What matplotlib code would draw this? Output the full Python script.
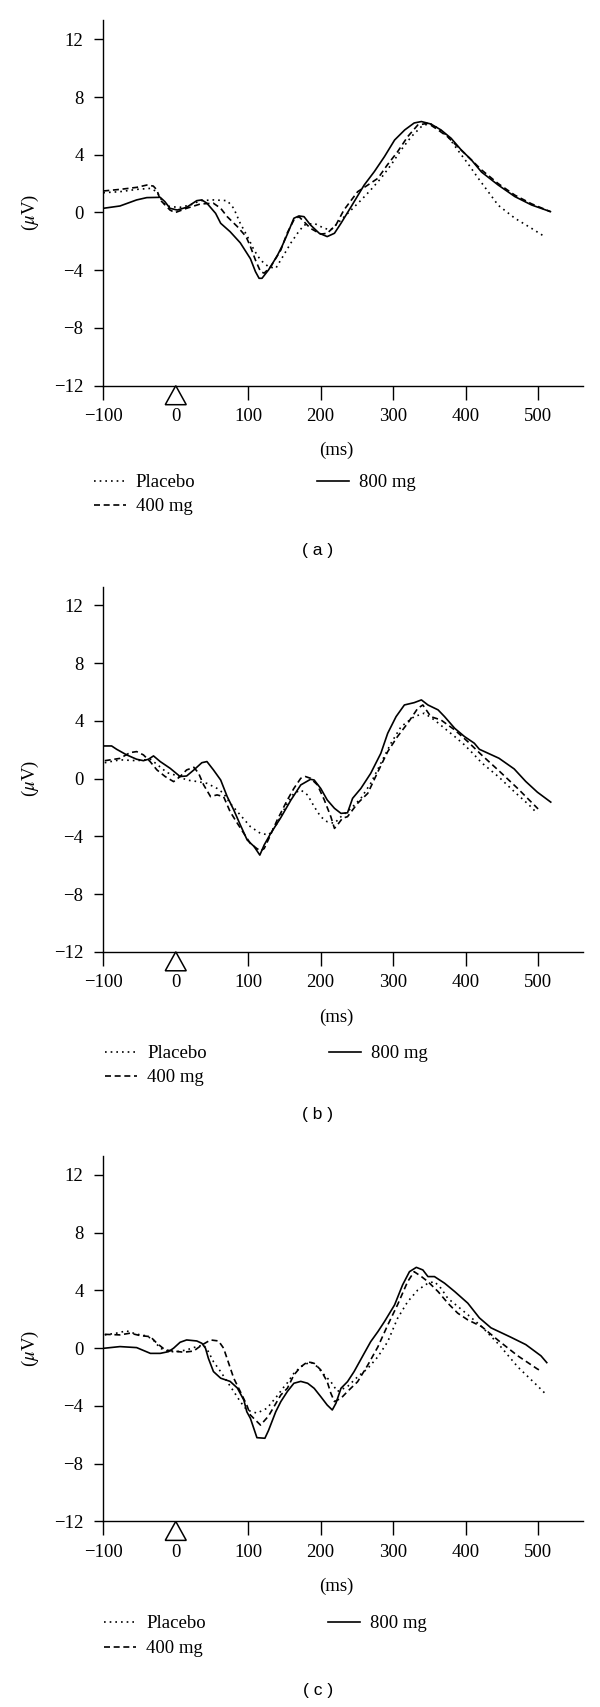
import matplotlib
matplotlib.use("Agg")
import matplotlib.pyplot as plt
from matplotlib.lines import Line2D
from matplotlib.patches import Polygon

plt.rcParams['font.family'] = ['Liberation Serif', 'DejaVu Serif']
plt.rcParams['mathtext.fontset'] = 'stix'

W, H = 600, 1707

# --- panel (a) ---
a_placebo_ms = [-100, -77, -54, -35, -26, -17, -8, 6, 20, 34, 52, 71, 80, 89, 99, 108, 117, 128, 138, 149,
                159, 168, 177, 191, 205, 214, 228, 242, 256, 269, 283, 297, 311, 325, 339, 350, 362, 376,
                389, 403, 417, 445, 468, 491, 509]
a_placebo_uv = [1.37, 1.44, 1.6, 1.67, 1.44, 0.64, 0.4, 0.36, 0.52, 0.82, 0.87, 0.82, 0.29, -0.75, -1.67,
                -2.6, -3.3, -3.76, -3.87, -2.95, -2.1, -1.44, -0.87, -0.75, -1.1, -1.2, -0.52, 0.17, 0.87,
                1.56, 2.36, 3.29, 4.33, 5.25, 5.95, 6.18, 5.84, 5.25, 4.33, 3.4, 2.4, 0.5, -0.4, -1.1, -1.67]
a_400_ms = [-100, -77, -54, -40, -31, -26, -21.5, -8, -1, 15, 34, 52, 62, 71, 85, 97, 103, 110, 117, 122,
            131, 145, 154, 163, 170, 177, 186, 200, 209, 221, 232, 251, 265, 279, 292, 306, 320, 334, 348,
            362, 375, 389, 408, 422, 445, 468, 491, 517]
a_400_uv = [1.49, 1.6, 1.74, 1.9, 1.83, 1.56, 0.87, 0.17, -0.01, 0.29, 0.59, 0.64, 0.29, -0.29, -0.98,
            -1.67, -2.36, -3.3, -4.1, -4.2, -3.76, -2.6, -1.4, -0.52, -0.29, -0.64, -1.1, -1.5, -1.44,
            -0.87, 0.17, 1.44, 1.9, 2.37, 3.3, 4.2, 5.25, 6.06, 6.18, 5.72, 5.25, 4.56, 3.64, 2.95, 2.0,
            1.2, 0.6, 0.06]
a_800_ms = [-100, -77, -54, -40, -21.5, -15, -8, 2, 15, 29, 36, 43, 55, 62, 75, 89, 103, 110, 115, 119,
            128, 140, 147, 154, 163, 170, 177, 186, 198, 209, 219, 228, 242, 260, 274, 288, 302, 316, 329,
            339, 352, 366, 380, 394, 408, 422, 445, 468, 491, 517]
a_800_uv = [0.29, 0.45, 0.87, 1.03, 1.05, 0.75, 0.29, 0.17, 0.36, 0.82, 0.87, 0.64, -0.06, -0.75, -1.33,
            -2.1, -3.2, -4.1, -4.56, -4.56, -3.98, -3.0, -2.3, -1.5, -0.4, -0.24, -0.29, -0.87, -1.44,
            -1.67, -1.44, -0.75, 0.4, 1.9, 2.83, 3.87, 5.02, 5.72, 6.2, 6.3, 6.13, 5.72, 5.14, 4.33, 3.64,
            2.8, 1.9, 1.1, 0.52, 0.06]

# --- panel (b) ---
b_placebo_ms = [-98, -77, -54, -35, -26, -12, 2, 15, 29, 43, 57, 66, 75, 89, 103, 117, 128.5, 140, 154,
                163, 172.5, 182, 191, 200, 209, 219, 228, 242, 255.5, 269, 283, 297, 311, 329, 343, 357,
                371, 385, 398.5, 412, 422, 446, 467, 488, 499]
b_placebo_uv = [1.1, 1.3, 1.24, 1.34, 0.99, 0.41, 0.2, -0.1, -0.2, -0.33, -0.68, -1.02, -1.71, -2.52,
                -3.33, -3.8, -3.9, -3.1, -1.71, -1.02, -0.79, -1.14, -1.94, -2.64, -2.99, -3.1, -2.64,
                -2.06, -1.37, -0.33, 1.06, 2.45, 3.6, 4.29, 4.53, 4.06, 3.48, 2.91, 2.33, 1.64, 1.1, 0.1,
                -0.9, -1.85, -2.42]
b_400_ms = [-98, -77, -63, -54, -44.6, -35.4, -26, -14.6, -3, 6, 15, 25, 31.5, 38.5, 48, 57, 66, 75, 85,
            94, 103, 112, 117, 122, 128.5, 140, 154, 163, 172.5, 179, 186, 195.5, 205, 214, 219, 223, 230,
            237, 251, 265, 279, 292.5, 306, 320, 334, 341, 352, 366, 385, 403, 422, 446, 472, 500]
b_400_uv = [1.24, 1.4, 1.8, 1.87, 1.64, 1.18, 0.6, 0.14, -0.21, 0.14, 0.6, 0.78, 0.37, -0.44, -1.25,
            -1.13, -1.25, -2.29, -3.1, -3.8, -4.5, -4.85, -5.0, -4.85, -4.15, -2.87, -1.48, -0.68, 0.02,
            0.14, 0.02, -0.44, -1.48, -2.64, -3.45, -3.22, -2.75, -2.64, -1.71, -1.02, 0.48, 1.87, 2.91,
            3.83, 4.87, 5.1, 4.29, 4.06, 3.37, 2.56, 1.64, 0.54, -0.69, -2.1]
b_800_ms = [-98, -88.5, -81.6, -67.7, -54, -44.6, -37.7, -30.7, -21.5, -7.7, 6, 15, 25, 36, 43, 52, 62,
            71, 80, 89, 98.5, 108, 116, 122, 131, 145, 159, 172.5, 186, 191, 200, 209, 219, 228, 237, 244,
            255.5, 269, 283, 292.5, 304, 315.5, 329, 339, 348, 362, 371, 385, 398.5, 412, 419, 446, 467,
            483, 499, 517.5]
b_800_uv = [2.26, 2.26, 2.03, 1.64, 1.34, 1.24, 1.34, 1.57, 1.18, 0.71, 0.14, 0.18, 0.6, 1.1, 1.18, 0.6,
            -0.1, -1.25, -2.17, -3.2, -4.25, -4.7, -5.3, -4.6, -3.8, -2.7, -1.48, -0.44, -0.05, -0.1,
            -0.68, -1.48, -2.06, -2.41, -2.37, -1.37, -0.68, 0.36, 1.75, 3.14, 4.29, 5.1, 5.26, 5.45, 5.1,
            4.76, 4.29, 3.48, 2.91, 2.45, 2.03, 1.41, 0.67, -0.2, -0.94, -1.63]

# --- panel (c) ---
c_placebo_ms = [-98, -82, -68, -54, -40, -31, -21.5, -10, 2, 15, 29, 38.5, 45, 52, 62, 71, 80, 89, 98,
                112, 126, 140, 149, 154, 163, 172.5, 186, 195.5, 205, 214, 223, 237, 251, 265, 279, 292.5,
                306, 320, 334, 348, 357, 366, 375.5, 389, 403, 422, 446, 472, 499, 509]
c_placebo_uv = [0.92, 1.04, 1.2, 0.97, 0.85, 0.57, 0.0, -0.24, -0.24, -0.12, 0.11, 0.22, -0.24, -0.93,
                -1.63, -2.32, -3.0, -3.7, -4.28, -4.5, -4.16, -3.3, -2.7, -2.4, -1.74, -1.29, -0.94, -1.29,
                -1.86, -2.32, -3.0, -2.66, -1.98, -1.4, -0.59, 0.45, 2.06, 3.22, 4.03, 4.5, 4.61, 4.15,
                3.45, 2.9, 2.32, 1.5, 0.25, -1.3, -2.6, -3.1]
c_400_ms = [-98, -77, -63, -49, -35, -26, -14.6, -3, 11, 24.6, 36, 48, 59, 66, 73, 80, 89, 98, 103, 117,
            128, 145, 154, 163, 172.5, 182, 191, 200, 209, 214, 219, 228, 237, 251, 265, 279, 292.5, 306,
            320, 329, 339, 348, 362, 375.5, 389, 403, 422, 446, 472, 499, 504]
c_400_uv = [0.96, 0.92, 1.04, 0.87, 0.8, 0.34, -0.12, -0.2, -0.28, -0.2, 0.22, 0.57, 0.5, 0.0, -1.04,
            -2.08, -3.0, -3.94, -4.63, -5.33, -4.7, -3.24, -2.78, -1.86, -1.29, -0.94, -1.05, -1.5, -2.32,
            -3.12, -3.7, -3.47, -3.0, -2.32, -1.17, 0.1, 1.6, 3.0, 4.61, 5.3, 4.96, 4.61, 3.92, 3.12, 2.43,
            1.96, 1.5, 0.5, -0.53, -1.44, -1.57]
c_800_ms = [-98, -77, -54, -35, -21.5, -10, -3, 6, 15, 29, 36, 41, 45, 52, 62, 75, 85, 94, 98, 103, 112,
            123, 128, 138, 145, 154, 163, 172.5, 182, 191, 200, 209, 216, 221, 228, 237, 246, 260, 269,
            279, 288, 302, 313, 322.5, 332, 341, 348, 357, 371, 385, 403, 419, 435, 462, 483, 504, 512]
c_800_uv = [0.0, 0.11, 0.04, -0.36, -0.36, -0.24, 0.0, 0.41, 0.57, 0.5, 0.34, 0.0, -0.7, -1.62, -2.08,
            -2.3, -2.76, -3.6, -4.4, -4.86, -6.2, -6.24, -5.7, -4.4, -3.7, -3.0, -2.43, -2.3, -2.43, -2.78,
            -3.35, -3.94, -4.28, -3.82, -2.78, -2.32, -1.63, -0.36, 0.45, 1.15, 1.84, 3.0, 4.38, 5.3, 5.6,
            5.42, 4.96, 4.96, 4.5, 3.92, 3.12, 2.1, 1.41, 0.77, 0.25, -0.53, -1.0]

x_ticks = [-100, 0, 100, 200, 300, 400, 500]
y_ticks = [-12, -8, -4, 0, 4, 8, 12]
labels = ["Placebo", "400 mg", "800 mg"]
styles = [(0, (1, 2.4)), (0, (3.6, 2.2)), "-"]
LW = 1.2

panels = [
    ("( a )", 385.7, [(a_placebo_ms, a_placebo_uv), (a_400_ms, a_400_uv), (a_800_ms, a_800_uv)],
     {"rows": (481.4, 505.4), "x1": 93.7, "x2": 317.0, "ms": 450.7, "cap": 550.0}),
    ("( b )", 951.8, [(b_placebo_ms, b_placebo_uv), (b_400_ms, b_400_uv), (b_800_ms, b_800_uv)],
     {"rows": (1052.0, 1076.0), "x1": 105.0, "x2": 328.7, "ms": 1017.0, "cap": 1115.0}),
    ("( c )", 1521.4, [(c_placebo_ms, c_placebo_uv), (c_400_ms, c_400_uv), (c_800_ms, c_800_uv)],
     {"rows": (1622.4, 1647.0), "x1": 104.0, "x2": 328.0, "ms": 1586.0, "cap": 1691.0}),
]

AX_LEFT, AX_RIGHT, AX_H = 103.3, 583.0, 365.2


def fx(px):
    return px / W


def fy(py):
    return 1 - py / H


def legend_entry(fig, x0, y, style, text):
    fig.add_artist(Line2D([fx(x0), fx(x0 + 32)], [fy(y), fy(y)], transform=fig.transFigure,
                          color="black", lw=LW, linestyle=style))
    fig.text(fx(x0 + 42), fy(y + 6), text, fontsize=13.5, va="baseline", ha="left")


def draw_panel(fig, cap, bottom, series, pos):
    ax = fig.add_axes([fx(AX_LEFT), fy(bottom), (AX_RIGHT - AX_LEFT) / W, AX_H / H])
    for (ms, uv), style, lab in zip(series, styles, labels):
        ax.plot(ms, uv, color="black", lw=LW, linestyle=style, label=lab)

    ax.set_xlim(-100, 562)
    ax.set_ylim(-12, 13.3)
    for s in ["top", "right"]:
        ax.spines[s].set_visible(False)
    for s in ["left", "bottom"]:
        ax.spines[s].set_linewidth(1.0)

    ax.set_xticks(x_ticks)
    ax.set_yticks(y_ticks)
    ax.tick_params(axis="x", direction="out", length=10, width=1.0, pad=6, labelsize=13.5)
    ax.tick_params(axis="y", direction="out", length=6.7, width=1.0, pad=7.5, labelsize=13.5)
    ax.xaxis.get_major_ticks()[1].tick1line.set_visible(False)

    # stimulus onset marker
    tri = Polygon([(-14.5, -0.052), (14.5, -0.052), (0, 0)], closed=True,
                  transform=ax.get_xaxis_transform(), facecolor="white", edgecolor="black",
                  lw=1.1, clip_on=False, zorder=5)
    ax.add_patch(tri)

    v0 = bottom - 12 * AX_H / 25.3
    fig.text(fx(30.5), fy(v0), r"($\mu$V)", rotation=90, fontsize=13.5, ha="center", va="center")
    fig.text(fx(336), fy(pos["ms"]), "(ms)", fontsize=13.5, ha="center", va="center")

    r1, r2 = pos["rows"]
    legend_entry(fig, pos["x1"], r1, styles[0], labels[0])
    legend_entry(fig, pos["x1"], r2, styles[1], labels[1])
    legend_entry(fig, pos["x2"], r1, styles[2], labels[2])

    fig.text(fx(318), fy(pos["cap"]), cap, fontsize=12.5, ha="center", va="center",
             family="Liberation Sans")


fig = plt.figure(figsize=(6, 17.07), dpi=100)
for cap, bottom, series, pos in panels:
    draw_panel(fig, cap, bottom, series, pos)

fig.savefig("out.png", dpi=100)
